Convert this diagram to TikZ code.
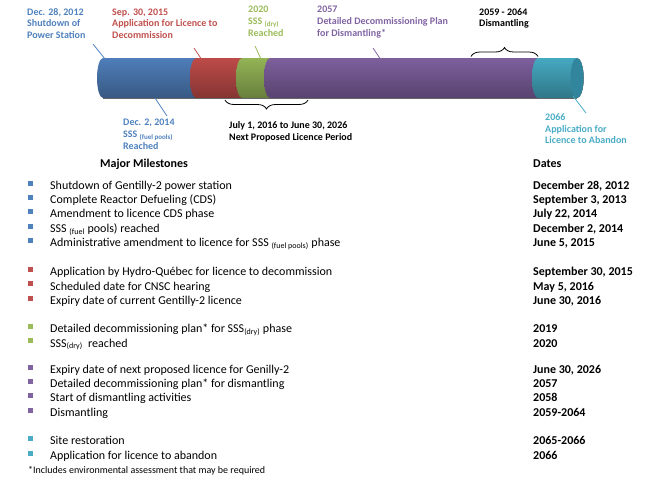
\documentclass[tikz,border=0pt]{standalone}
\usepackage{fontspec}
\setmainfont{Carlito}
\usetikzlibrary{decorations.pathreplacing}
\definecolor{tBlue}{HTML}{4F81BD}
\definecolor{tRed}{HTML}{C0504D}
\definecolor{tGreen}{HTML}{9BBB59}
\definecolor{tPurple}{HTML}{8064A2}
\definecolor{tCyan}{HTML}{4BACC6}
\definecolor{sBlue}{HTML}{5A8FD3}
\definecolor{sRed}{HTML}{D65552}
\definecolor{sGreen}{HTML}{A7CC61}
\definecolor{sPurple}{HTML}{8E6CB2}
\definecolor{sCyan}{HTML}{4EC0DB}
\definecolor{sCap}{HTML}{31859C}
\tikzset{
  lbl/.style={anchor=base west, inner sep=0pt, align=left, font=\bfseries\fontsize{10}{11.7}\selectfont},
  mst/.style={anchor=base west, inner sep=0pt, font=\fontsize{12}{14}\selectfont},
  dte/.style={anchor=base west, inner sep=0pt, font=\bfseries\fontsize{12}{14}\selectfont},
  bul/.style={inner sep=0pt, minimum size=5pt, fill=#1},
  leader/.style={line width=0.8pt},
  bracestyle/.style={decorate, decoration={brace, amplitude=9pt}, line width=0.8pt},
  seg/.style={top color=#1!88!black, middle color=#1!90!white, bottom color=#1!62!black}
}
\begin{document}
\begin{tikzpicture}[x=1pt, y=-1pt]
\useasboundingbox (0,0) rectangle (653,496);
% cylinder segments
\foreach \c/\col in {103/sBlue,196/sRed,242/sGreen,270/sPurple,538/sCyan}{
  \shade[seg=\col] (\c,58) arc[start angle=270, end angle=90, x radius=6, y radius=20]
    -- (577,98) arc[start angle=90, end angle=-90, x radius=6.5, y radius=20] -- cycle;
}
\draw[line width=0.6pt, black!60] (103,98) -- (577,98);
\fill[sCap] (577,78) ellipse[x radius=6.5, y radius=20];
% labels above / below (anchored at the baseline of their last line)
\node[lbl, text=tBlue] (lab1) at (27,38.4) {Dec. 28, 2012\\Shutdown of\\Power Station};
\node[lbl, text=tRed] (lab2) at (112,38.4) {Sep. 30, 2015\\Application for Licence to\\Decommission};
\node[lbl, text=tGreen, font=\bfseries\fontsize{10}{12.3}\selectfont] (lab3) at (248,36.6) {2020\\SSS \textsubscript{(dry)}\\Reached};
\node[lbl, text=tPurple, font=\bfseries\fontsize{10}{12.3}\selectfont] (lab4) at (317,36.6) {2057\\Detailed Decommissioning Plan\\for Dismantling*};
\node[lbl] (lab5) at (479,26.7) {2059 - 2064\\Dismantling};
\node[lbl, text=tCyan] (lab6) at (545,143.9) {2066\\Application for\\Licence to Abandon};
\node[lbl, text=tBlue] (lab7) at (123,149) {Dec. 2, 2014\\SSS \textsubscript{(fuel pools)}\\Reached};
\node[lbl] (lab8) at (229,140.2) {July 1, 2016 to June 30, 2026\\Next Proposed Licence Period};
% leader lines
\coordinate (p1a) at (93,44);   \coordinate (p1b) at (105,59);
\coordinate (p2a) at (194,48);  \coordinate (p2b) at (202,60);
\coordinate (p3a) at (255,46);  \coordinate (p3b) at (261,59);
\coordinate (p4a) at (373,48);  \coordinate (p4b) at (381,60);
\coordinate (p6a) at (573,96);  \coordinate (p6b) at (586,113);
\coordinate (p7a) at (155,98);  \coordinate (p7b) at (167,116);
\draw[leader, tBlue] (p1a) -- (p1b);
\draw[leader, tRed] (p2a) -- (p2b);
\draw[leader, tGreen] (p3a) -- (p3b);
\draw[leader, tPurple] (p4a) -- (p4b);
\draw[leader, tCyan] (p6a) -- (p6b);
\draw[leader, tBlue] (p7a) -- (p7b);
% braces
\coordinate (b1a) at (471,56.5); \coordinate (b1b) at (538,56.5);
\coordinate (b2a) at (308,100);  \coordinate (b2b) at (225,100);
\draw[bracestyle] (b1a) -- (b1b);
\draw[bracestyle] (b2a) -- (b2b);
% table headers
\node[dte] (hm) at (100,167) {Major Milestones};
\node[dte] (hd) at (533,167) {Dates};
% rows
\foreach \n/\y/\col/\txt/\dat in {
  1/186/tBlue/{Shutdown of Gentilly-2 power station}/{December 28, 2012},
  2/200.3/tBlue/{Complete Reactor Defueling (CDS)}/{September 3, 2013},
  3/214.6/tBlue/{Amendment to licence CDS phase}/{July 22, 2014},
  4/229/tBlue/{SSS \textsubscript{(fuel} pools) reached}/{December 2, 2014},
  5/243.3/tBlue/{Administrative amendment to licence for SSS \textsubscript{(fuel pools)} phase}/{June 5, 2015},
  6/272.5/tRed/{Application by Hydro-Québec for licence to decommission}/{September 30, 2015},
  7/286.8/tRed/{Scheduled date for CNSC hearing}/{May 5, 2016},
  8/301/tRed/{Expiry date of current Gentilly-2 licence}/{June 30, 2016},
  9/329.5/tGreen/{Detailed decommissioning plan* for SSS\textsubscript{(dry)} phase}/{2019},
  10/343.8/tGreen/{SSS\textsubscript{(dry)}\ \ reached}/{2020},
  11/370/tPurple/{Expiry date of next proposed licence for Genilly-2}/{June 30, 2026},
  12/384.3/tPurple/{Detailed decommissioning plan* for dismantling}/{2057},
  13/398.6/tPurple/{Start of dismantling activities}/{2058},
  14/413/tPurple/{Dismantling}/{2059-2064},
  15/441.5/tCyan/{Site restoration}/{2065-2066},
  16/456/tCyan/{Application for licence to abandon}/{2066}}{
  \node[bul=\col] (bl\n) at (30.5,\y-3) {};
  \node[mst] (ms\n) at (50,\y+3.3) {\txt};
  \node[dte] (dt\n) at (533,\y+3.3) {\dat};
}
\node[anchor=base west, inner sep=0pt, font=\fontsize{10}{11}\selectfont] (fn) at (28,473.5) {*Includes environmental assessment that may be required};
\end{tikzpicture}
\end{document}
